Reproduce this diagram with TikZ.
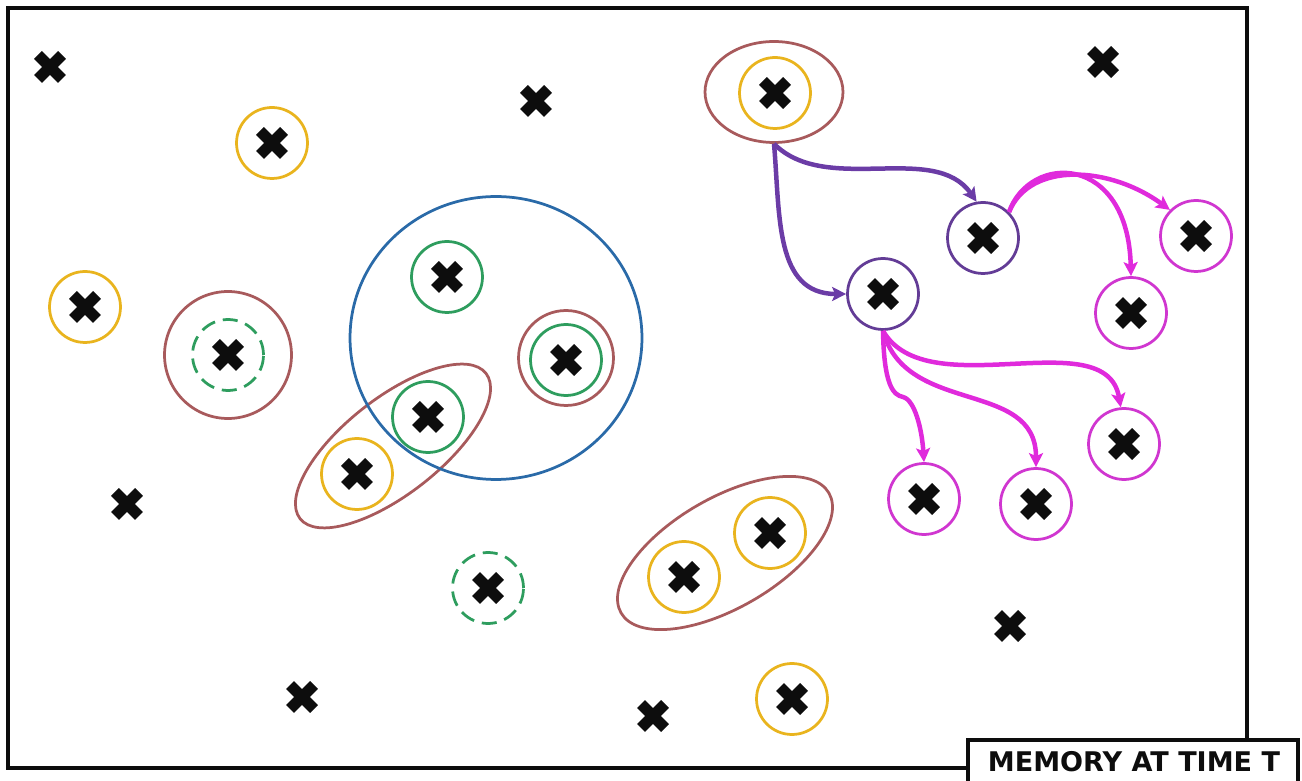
\documentclass[tikz,border=0pt]{standalone}
\usepackage{fontspec}
\setmainfont{DejaVu Sans}
\usepackage{xcolor}
\definecolor{memory-black}{HTML}{0D0D0D}
\definecolor{memory-yellow}{HTML}{E9B41E}
\definecolor{memory-green}{HTML}{2E9D5E}
\definecolor{memory-brown}{HTML}{A85A5C}
\definecolor{memory-blue}{HTML}{2A6AA8}
\definecolor{memory-purple}{HTML}{633C96}
\definecolor{memory-violet}{HTML}{6B3CA6}
\definecolor{memory-magenta}{HTML}{D036D0}
\definecolor{memory-pink}{HTML}{E02ADC}
\usepackage{tikz}
\usetikzlibrary{shapes.geometric, arrows.meta}

\tikzset{
  ring/.style={circle, draw, line width=0.055cm, minimum size=1.42cm, inner sep=0pt},
  oval/.style={ellipse, draw, memory-brown, line width=0.055cm, inner sep=0pt},
  xline/.style={memory-black, line width=0.22cm},
  link/.style={line width=0.09cm, -{Stealth[length=0.28cm, width=0.28cm, inset=0.06cm]}},
}
\newcommand\xmark[1]{\draw[xline, shift={(#1)}] (-12,-12) -- (12,12) (-12,12) -- (12,-12);}

\begin{document}
\begin{tikzpicture}[x=0.02cm, y=0.02cm]

    \useasboundingbox (0, 0) rectangle (1302, 781);

    % Frame
    \draw[memory-black, line width=0.08cm] (8, 13) rectangle (1247, 773);

    % Loose items
    \coordinate (c1) at (50, 714);
    \coordinate (c2) at (536, 680);
    \coordinate (c3) at (1103, 719);
    \coordinate (c4) at (127, 277);
    \coordinate (c5) at (302, 84);
    \coordinate (c6) at (653, 65);
    \coordinate (c7) at (1010, 155);

    % Yellow rings
    \node[ring, memory-yellow] (y1) at (272, 638) {};
    \node[ring, memory-yellow] (y2) at (85, 474) {};
    \node[ring, memory-yellow] (y3) at (357, 307) {};
    \node[ring, memory-yellow] (y4) at (684, 204) {};
    \node[ring, memory-yellow] (y5) at (770, 248) {};
    \node[ring, memory-yellow] (y6) at (792, 82) {};
    \node[ring, memory-yellow] (y7) at (775, 688) {};

    % Green rings
    \node[ring, memory-green] (g1) at (447, 504) {};
    \node[ring, memory-green] (g2) at (428, 364) {};
    \node[ring, memory-green] (g3) at (566, 421) {};
    \node[ring, memory-green, dash pattern=on 0.3cm off 0.16cm] (g4) at (228, 426) {};
    \node[ring, memory-green, dash pattern=on 0.3cm off 0.16cm] (g5) at (488, 193) {};

    % Brown rings and ovals
    \node[ring, memory-brown, minimum size=2.54cm] (b1) at (228, 426) {};
    \node[ring, memory-brown, minimum size=1.9cm] (b2) at (566, 423) {};
    \node[oval, minimum width=2.76cm, minimum height=2.02cm] (top) at (774, 689) {};
    \node[oval, minimum width=4.72cm, minimum height=1.92cm, rotate=38] (b3) at (393, 335) {};
    \node[oval, minimum width=4.8cm, minimum height=2.2cm, rotate=30] (b4) at (725, 228) {};

    % Blue ring
    \node[ellipse, draw, memory-blue, line width=0.055cm, minimum width=5.84cm, minimum height=5.66cm] (big) at (496, 443) {};

    % Purple rings
    \node[ring, memory-purple] (p1) at (983, 543) {};
    \node[ring, memory-purple] (p2) at (883, 487) {};

    % Magenta rings
    \node[ring, memory-magenta] (m1) at (1196, 545) {};
    \node[ring, memory-magenta] (m2) at (1131, 468) {};
    \node[ring, memory-magenta] (m3) at (1124, 337) {};
    \node[ring, memory-magenta] (m4) at (924, 282) {};
    \node[ring, memory-magenta] (m5) at (1036, 277) {};

    % Crosses
    \xmark{c1} \xmark{c2} \xmark{c3} \xmark{c4} \xmark{c5} \xmark{c6} \xmark{c7}
    \xmark{y1} \xmark{y2} \xmark{y3} \xmark{y4} \xmark{y5} \xmark{y6} \xmark{y7}
    \xmark{g1} \xmark{g2} \xmark{g3} \xmark{g4} \xmark{g5}
    \xmark{p1} \xmark{p2}
    \xmark{m1} \xmark{m2} \xmark{m3} \xmark{m4} \xmark{m5}

    % Purple links
    \draw[link, memory-violet] (top.south) to[out=-45, in=125, looseness=0.9] (p1.100);
    \draw[link, memory-violet] (top.south) to[out=-85, in=180, looseness=1.1] (p2.west);

    % Magenta links
    \draw[link, memory-pink] (p1.north east) .. controls (1030, 620) and (1110, 615) .. (m1.135);
    \draw[link, memory-pink] (p1.north east) .. controls (1030, 628) and (1128, 628) .. (m2.north);
    \draw[link, memory-pink] (p2.south) to[out=-60, in=100, looseness=0.9] (m3.95);
    \draw[link, memory-pink] (p2.south) to[out=-75, in=90, looseness=1.1] (m5.north);
    \draw[link, memory-pink] (p2.south) .. controls (884, 396) and (893, 386) .. (903, 384) .. controls (915, 381) and (922, 351) .. (m4.north);

    % Label
    \draw[memory-black, fill=white, line width=0.08cm] (968, -20) rectangle (1298, 41);
    \node[memory-black, font=\fontsize{15.4}{18}\selectfont\bfseries] (label) at (1134, 19) {MEMORY AT TIME T};

\end{tikzpicture}
\end{document}
